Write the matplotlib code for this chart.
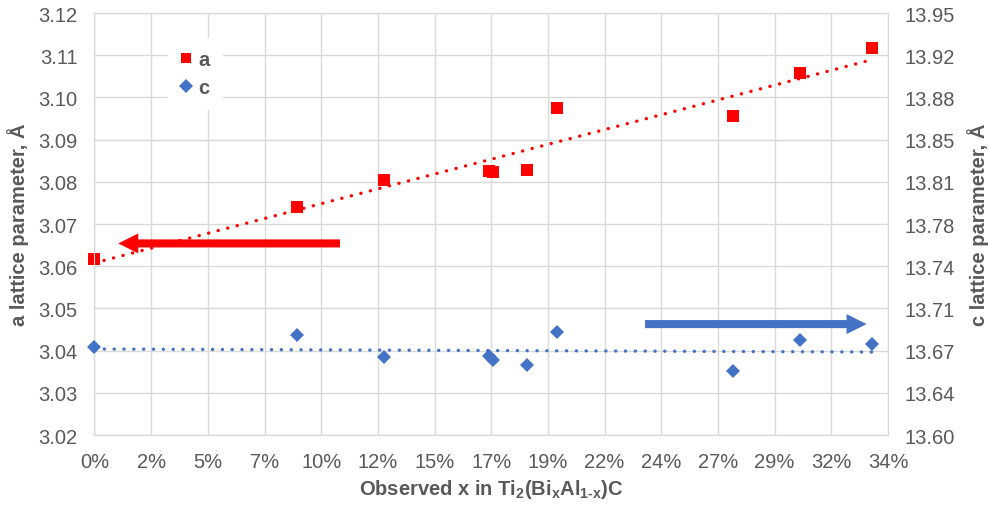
import numpy as np
import matplotlib
matplotlib.use("Agg")
import matplotlib.pyplot as plt
from matplotlib.ticker import FixedLocator

plt.rcParams['font.family'] = ['Liberation Sans', 'DejaVu Sans']
plt.rcParams['mathtext.fontset'] = 'custom'
plt.rcParams['mathtext.rm'] = 'Liberation Sans:bold'
plt.rcParams['mathtext.it'] = 'Liberation Sans:bold'
plt.rcParams['mathtext.bf'] = 'Liberation Sans:bold'

# observed Bi fraction
x_obs = [0.0, 0.0866, 0.1242, 0.1692, 0.1709, 0.1853, 0.1983, 0.2734, 0.3023, 0.3333]
# lattice parameters (angstrom)
a_vals = [3.0617, 3.0740, 3.0804, 3.0825, 3.0823, 3.0827, 3.0976, 3.0955, 3.1059, 3.1117]
c_vals = [13.6727, 13.6829, 13.6649, 13.6653, 13.6625, 13.6581, 13.6857, 13.6528, 13.6790, 13.6757]

x_ticks = np.linspace(0, 0.34, 15)
a_ticks = [3.02, 3.03, 3.04, 3.05, 3.06, 3.07, 3.08, 3.09, 3.10, 3.11, 3.12]
c_ticks = np.linspace(13.60, 13.95, 11)
c_tick_labels = ["13.60", "13.64", "13.67", "13.71", "13.74", "13.78",
                 "13.81", "13.85", "13.88", "13.92", "13.95"]

RED = "#ff0000"
BLUE = "#4472c4"
TXT = "#595959"
GRID = "#d9d9d9"
FS = 14.5

fig = plt.figure(figsize=(9.89, 5.06), dpi=100)
ax = fig.add_axes([0.0955, 0.1383, 0.8024, 0.834])
ax2 = ax.twinx()

# trendlines (least squares, like the spreadsheet)
xs = np.array(x_obs)
pa = np.polyfit(xs, a_vals, 1)
pc = np.polyfit(xs, c_vals, 1)
xl = np.array([xs.min(), xs.max()])
ax.plot(xl, np.polyval(pa, xl), color=RED, lw=2.4, ls=(0, (0.05, 2.9)),
        dash_capstyle='round', zorder=3)
ax2.plot(xl, np.polyval(pc, xl), color=BLUE, lw=2.4, ls=(0, (0.05, 2.9)),
         dash_capstyle='round', zorder=3)

ha, = ax.plot(x_obs, a_vals, 's', color=RED, ms=8, mew=0, label='a', zorder=4,
              clip_on=False)
hc, = ax2.plot(x_obs, c_vals, 'D', color=BLUE, ms=7.5, mew=0, label='c', zorder=4,
               clip_on=False)

# arrows pointing at the relevant axis
ax.annotate('', xy=(0.0102, 3.0654), xytext=(0.1052, 3.0654),
            arrowprops=dict(arrowstyle='simple,head_length=0.72,head_width=0.72,tail_width=0.29',
                            mutation_scale=20, color=RED, lw=0, shrinkA=0, shrinkB=0))
ax2.annotate('', xy=(0.3308, 13.692), xytext=(0.2359, 13.692),
             arrowprops=dict(arrowstyle='simple,head_length=0.72,head_width=0.72,tail_width=0.29',
                             mutation_scale=20, color=BLUE, lw=0, shrinkA=0, shrinkB=0))

ax.set_xlim(0, 0.34)
ax.set_ylim(3.02, 3.12)
ax2.set_ylim(13.60, 13.95)

ax.xaxis.set_major_locator(FixedLocator(x_ticks))
ax.set_xticklabels([f"{v*100:.0f}%" for v in x_ticks])
ax.yaxis.set_major_locator(FixedLocator(a_ticks))
ax.set_yticklabels([f"{v:.2f}" for v in a_ticks])
ax2.yaxis.set_major_locator(FixedLocator(c_ticks))
ax2.set_yticklabels(c_tick_labels)

ax.grid(True, color=GRID, lw=1)
ax.set_axisbelow(True)
for a_ in (ax, ax2):
    for s in a_.spines.values():
        s.set_color(GRID)
    a_.tick_params(length=0, labelsize=FS, colors=TXT, pad=12)
ax.spines['left'].set_color("#bfbfbf")
ax.spines['bottom'].set_color("#bfbfbf")

ax.set_xlabel(r"Observed x in Ti$_\mathregular{2}$(Bi$_\mathregular{x}$Al$_\mathregular{1\text{-}x}$)C",
              fontsize=FS, fontweight='bold', color=TXT)
ax.set_ylabel("a lattice parameter, Å", fontsize=FS, fontweight='bold', color=TXT)
ax2.set_ylabel("c lattice parameter, Å", fontsize=FS, fontweight='bold', color=TXT,
               rotation=90)
ax.xaxis.set_label_coords(0.5, -0.1)
ax.yaxis.set_label_coords(-0.082, 0.5)
ax2.yaxis.set_label_coords(1.099, 0.5)

leg = ax2.legend([ha, hc], ['a', 'c'], loc='upper left', bbox_to_anchor=(0.08, 0.965),
                 frameon=True, fancybox=False, framealpha=1, edgecolor='white',
                 markerscale=0.9, handlelength=0.6, handletextpad=0.3,
                 labelspacing=0.45, borderpad=0.6,
                 prop={'size': FS, 'weight': 'bold'})
for t in leg.get_texts():
    t.set_color(TXT)

fig.savefig("out.png", dpi=100)
